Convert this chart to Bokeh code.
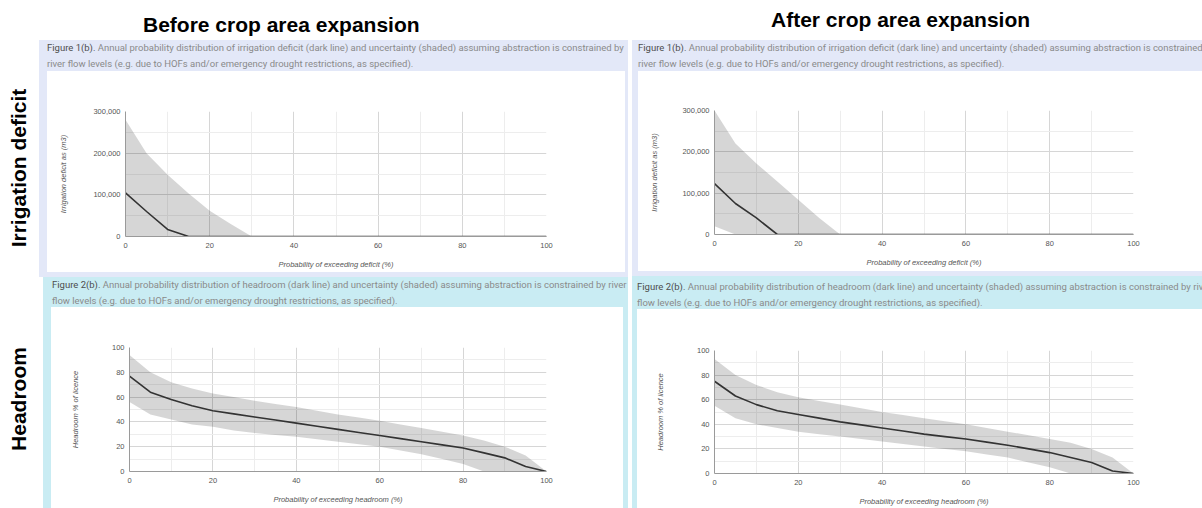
from bokeh.plotting import figure
from bokeh.layouts import row, column
from bokeh.models import Div, Range1d, FixedTicker, NumeralTickFormatter
from bokeh.embed import file_html
from bokeh.resources import INLINE

# ---------------- data ----------------
prob = [0, 5, 10, 15, 20, 25, 30, 35, 40, 45, 50, 55, 60, 65, 70, 75, 80, 85, 90, 95, 100]

deficit_before_line = [105000, 60000, 17000, 0, 0, 0, 0, 0, 0, 0, 0, 0, 0, 0, 0, 0, 0, 0, 0, 0, 0]
deficit_before_upper = [280000, 200000, 148000, 103000, 62000, 30000, 0, 0, 0, 0, 0, 0, 0, 0, 0, 0, 0, 0, 0, 0, 0]
deficit_before_lower = [0] * 21

deficit_after_line = [123000, 75000, 40000, 0, 0, 0, 0, 0, 0, 0, 0, 0, 0, 0, 0, 0, 0, 0, 0, 0, 0]
deficit_after_upper = [300000, 220000, 172000, 128000, 84000, 40000, 0, 0, 0, 0, 0, 0, 0, 0, 0, 0, 0, 0, 0, 0, 0]
deficit_after_lower = [20000, 0, 0, 0, 0, 0, 0, 0, 0, 0, 0, 0, 0, 0, 0, 0, 0, 0, 0, 0, 0]

headroom_before_line = [77, 64, 58, 53, 49, 46.5, 44, 41.5, 39, 36.5, 34, 31.5, 29, 26.5, 24, 21.5, 19, 15, 11, 4, 0]
headroom_before_upper = [94, 80, 72, 67, 63, 60, 57, 54.5, 52, 49, 46, 43.5, 41, 38, 35, 32, 29, 25, 20, 13, 0]
headroom_before_lower = [56, 46, 42, 38, 36, 33, 31, 29.5, 28, 26, 24, 22, 20, 17, 14, 10, 6, 0, 0, 0, 0]

headroom_after_line = [75, 63, 56, 51, 48, 45, 42, 39.5, 37, 34.5, 32, 30, 28, 25.5, 23, 20, 17, 13, 9, 2, 0]
headroom_after_upper = [93, 80, 72, 66, 62, 59, 56, 53, 50, 47.5, 45, 42.5, 40, 37, 34, 31, 28, 25, 20, 13, 0]
headroom_after_lower = [55, 45, 40, 37, 34, 32, 30, 28, 26, 24, 22, 20, 18, 15.5, 13, 9, 5, 0, 0, 0, 0]

x_ticks = [0, 20, 40, 60, 80, 100]
x_minor = [10, 30, 50, 70, 90]
deficit_ticks = [0, 100000, 200000, 300000]
deficit_minor = [50000, 150000, 250000]
headroom_ticks = [0, 20, 40, 60, 80, 100]
headroom_minor = [10, 30, 50, 70, 90]

title_before = "Before crop area expansion"
title_after = "After crop area expansion"
row_label_1 = "Irrigation deficit"
row_label_2 = "Headroom"
cap1_bold = "Figure 1(b)."
cap1_l1 = " Annual probability distribution of irrigation deficit (dark line) and uncertainty (shaded) assuming abstraction is constrained by"
cap1_l2 = "river flow levels (e.g. due to HOFs and/or emergency drought restrictions, as specified)."
cap2_bold = "Figure 2(b)."
cap2_l1 = " Annual probability distribution of headroom (dark line) and uncertainty (shaded) assuming abstraction is constrained by river"
cap2_l2 = "flow levels (e.g. due to HOFs and/or emergency drought restrictions, as specified)."

LAV = "#e3e8f8"
CYAN = "#c9ecf3"
CHART_FONT = "Liberation Sans"


def chart(w, h, bl, br, bt, bb, line, lo, hi, yend, yticks, yminor, xlabel, ylabel, ystand, comma):
    p = figure(width=w, height=h, x_range=Range1d(0, 100), y_range=Range1d(0, yend),
               output_backend="svg", toolbar_location=None,
               min_border_left=bl, min_border_right=br, min_border_top=bt, min_border_bottom=bb,
               margin=0)
    p.outline_line_color = None
    p.background_fill_color = "white"
    p.border_fill_color = "white"
    p.varea(x=prob, y1=lo, y2=hi, fill_color="#000000", fill_alpha=0.16)
    p.line(prob, line, line_color="#333333", line_width=1.6)
    p.xaxis.ticker = FixedTicker(ticks=x_ticks, minor_ticks=x_minor)
    p.yaxis.ticker = FixedTicker(ticks=yticks, minor_ticks=yminor)
    if comma:
        p.yaxis.formatter = NumeralTickFormatter(format="0,0")
    for ax in (p.xaxis[0], p.yaxis[0]):
        ax.major_tick_line_color = None
        ax.minor_tick_line_color = None
        ax.major_tick_out = 0
        ax.major_tick_in = 0
        ax.minor_tick_out = 0
        ax.axis_line_color = "#9a9a9a"
        ax.major_label_text_font = CHART_FONT
        ax.major_label_text_font_size = "7.5px"
        ax.major_label_text_color = "#555555"
        ax.axis_label_text_font = CHART_FONT
        ax.axis_label_text_font_size = "7.5px"
        ax.axis_label_text_font_style = "italic"
        ax.axis_label_text_color = "#555555"
    p.xaxis.major_label_standoff = 6
    p.xaxis.axis_label_standoff = 9
    p.yaxis.major_label_standoff = 5
    p.yaxis.axis_label_standoff = ystand
    p.xaxis.axis_label = xlabel
    p.yaxis.axis_label = ylabel
    for g in (p.xgrid[0], p.ygrid[0]):
        g.grid_line_color = "#d6d6d6"
        g.minor_grid_line_color = "#ededed"
    return p


def block(color, w, h):
    return Div(text="", width=w, height=h, margin=0, styles={"background-color": color})


def caption(color, w, h, bold, l1, l2, pad_left, pad_top):
    html = (f'<div style="padding-left:{pad_left}px;padding-top:{pad_top}px;font-family:Roboto;'
            f'font-size:9.5px;line-height:16px;color:#8a8a8a;white-space:nowrap;">'
            f'<span style="color:#4d4d4d;">{bold}</span>{l1}<br>{l2}</div>')
    return Div(text=html, width=w, height=h, margin=0,
               styles={"background-color": color, "overflow": "hidden"})


# ----- charts -----
p_tl = chart(578, 201, 78, 79, 40, 36, deficit_before_line, deficit_before_lower, deficit_before_upper,
             300000, deficit_ticks, deficit_minor, "Probability of exceeding deficit (%)",
             "Irrigation deficit as (m3)", 22, True)
p_tr = chart(564, 200, 76, 69, 39, 37, deficit_after_line, deficit_after_lower, deficit_after_upper,
             300000, deficit_ticks, deficit_minor, "Probability of exceeding deficit (%)",
             "Irrigation deficit as (m3)", 20, True)
p_bl = chart(572, 201, 78, 77, 40, 37, headroom_before_line, headroom_before_lower, headroom_before_upper,
             100, headroom_ticks, headroom_minor, "Probability of exceeding headroom (%)",
             "Headroom % of licence", 29, False)
p_br = chart(565, 199, 77, 69, 41, 34, headroom_after_line, headroom_after_lower, headroom_after_upper,
             100, headroom_ticks, headroom_minor, "Probability of exceeding headroom (%)",
             "Headroom % of licence", 29, False)

# ----- panels -----
tl_panel = column(
    caption(LAV, 589, 31, cap1_bold, cap1_l1, cap1_l2, 8, 0),
    row(block(LAV, 8, 201), p_tl, block(LAV, 3, 201), spacing=0),
    block(LAV, 589, 5),
    spacing=0,
)
bl_panel = row(
    block("white", 4, 231),
    column(
        caption(CYAN, 585, 30, cap2_bold, cap2_l1, cap2_l2, 9, 0),
        row(block(CYAN, 8, 201), p_bl, block(CYAN, 5, 201), spacing=0),
        spacing=0,
    ),
    spacing=0,
)
tr_panel = column(
    caption(LAV, 570, 31, cap1_bold, cap1_l1, cap1_l2, 6, 0),
    row(block(LAV, 6, 200), p_tr, spacing=0),
    block(LAV, 570, 5),
    spacing=0,
)
br_panel = column(
    caption(CYAN, 570, 33, cap2_bold, cap2_l1, cap2_l2, 5, 3),
    row(block(CYAN, 5, 199), p_br, spacing=0),
    spacing=0,
)

title_html = (
    f'<div style="position:relative;width:1202px;height:40px;font-family:\'Liberation Sans\';'
    f'font-weight:bold;font-size:21px;line-height:22px;color:#000;">'
    f'<div style="position:absolute;left:143px;top:14px;white-space:nowrap;">{title_before}</div>'
    f'<div style="position:absolute;left:771px;top:9px;white-space:nowrap;">{title_after}</div></div>'
)
title_div = Div(text=title_html, width=1202, height=40, margin=0)

label_html = (
    f'<div style="position:relative;width:39px;height:468px;font-family:\'Liberation Sans\';'
    f'font-weight:bold;font-size:21px;line-height:22px;color:#000;">'
    f'<div style="position:absolute;left:19px;top:128px;white-space:nowrap;'
    f'transform:translate(-50%,-50%) rotate(-90deg);">{row_label_1}</div>'
    f'<div style="position:absolute;left:19px;top:359px;white-space:nowrap;'
    f'transform:translate(-50%,-50%) rotate(-90deg);">{row_label_2}</div></div>'
)
label_div = Div(text=label_html, width=39, height=468, margin=0)

left_col = column(tl_panel, bl_panel, spacing=0)
right_col = column(tr_panel, br_panel, spacing=0)
body = row(label_div, left_col, block("white", 4, 468), right_col, spacing=0)

root = column(title_div, body, spacing=0)

open("out.html", "w").write(file_html(root, INLINE))
